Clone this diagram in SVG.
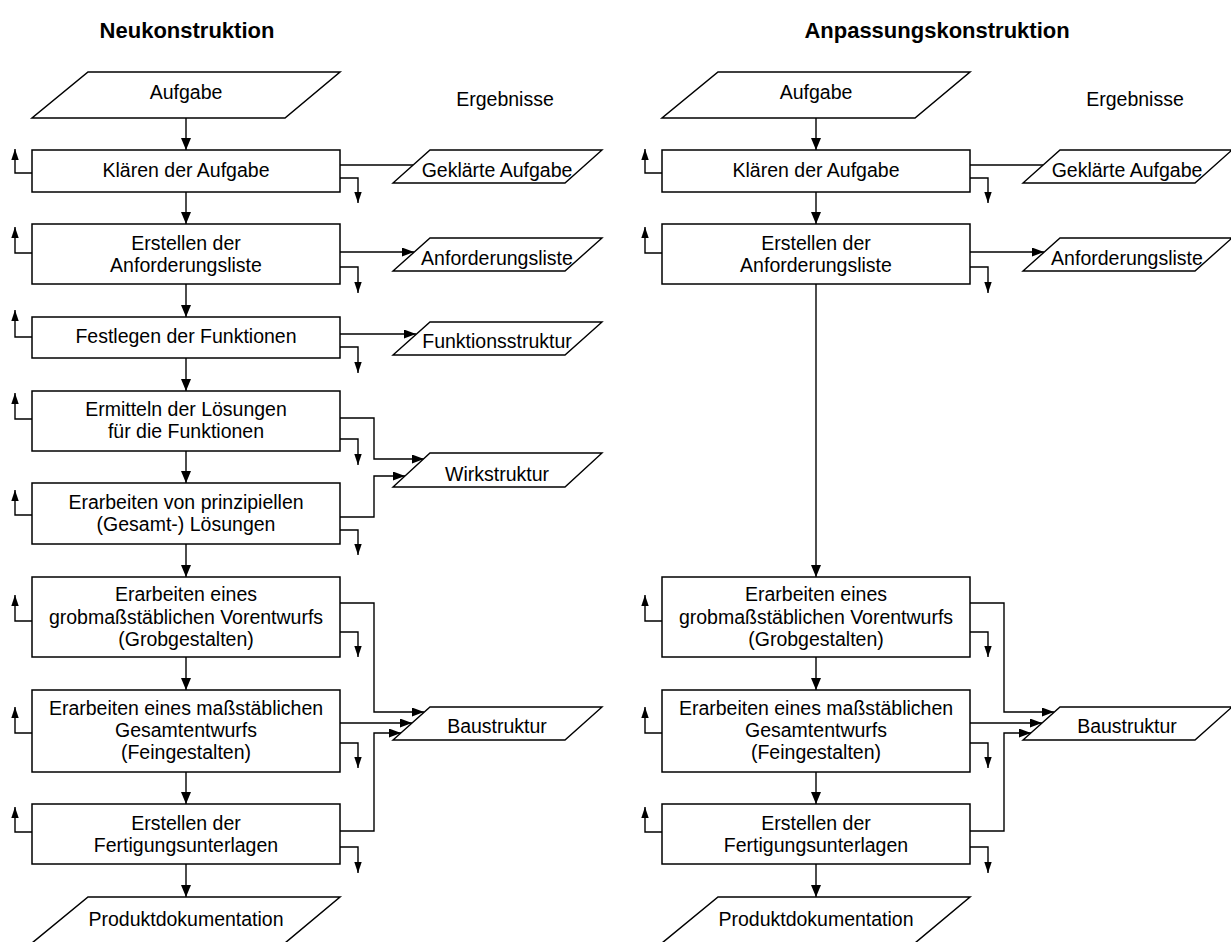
<svg xmlns="http://www.w3.org/2000/svg" width="1231" height="942" viewBox="0 0 1231 942">
  <style>
    .box { fill: #fff; stroke: #000; stroke-width: 1.5; }
    .res { fill: #fff; stroke: #000; stroke-width: 1.4; }
    .lbl { font-family: "Liberation Sans", Arial, sans-serif; font-size: 19.5px; fill: #000; text-anchor: middle; }
    .ttl { font-family: "Liberation Sans", Arial, sans-serif; font-size: 22px; font-weight: bold; fill: #000; text-anchor: middle; }
    .ln { fill: none; stroke: #000; stroke-width: 1.4; }
    .main { marker-end: url(#arrMain); }
    .small { marker-end: url(#arrSmall); }
    .out { marker-end: url(#arrOut); }
  </style>
  <defs>
    <marker id="arrMain" markerUnits="userSpaceOnUse" markerWidth="12" markerHeight="10" refX="12" refY="5" orient="auto">
      <path d="M0,0 L12,5 L0,10 Z" fill="#000"/>
    </marker>
    <marker id="arrSmall" markerUnits="userSpaceOnUse" markerWidth="11" markerHeight="8" refX="11" refY="4" orient="auto">
      <path d="M0,0.3 L11,4 L0,7.7 Z" fill="#000"/>
    </marker>
    <marker id="arrOut" markerUnits="userSpaceOnUse" markerWidth="12" markerHeight="9" refX="12" refY="4.5" orient="auto">
      <path d="M0,0 L12,4.5 L0,9 Z" fill="#000"/>
    </marker>
  </defs>
  <rect width="1231" height="942" fill="#fff"/>

  <!-- column headings -->
  <text class="ttl" x="187" y="38">Neukonstruktion</text>
  <text class="ttl" x="937" y="38">Anpassungskonstruktion</text>
  <text class="lbl" x="505" y="106">Ergebnisse</text>
  <text class="lbl" x="1135" y="106">Ergebnisse</text>

  <!-- ===== left column: Neukonstruktion ===== -->
  <g id="connectors-left">
    <!-- main flow -->
    <path class="ln main" d="M186,118 V150"/>
    <path class="ln main" d="M186,192 V224"/>
    <path class="ln main" d="M186,284 V317"/>
    <path class="ln main" d="M186,358 V391"/>
    <path class="ln main" d="M186,451 V483"/>
    <path class="ln main" d="M186,544 V577"/>
    <path class="ln main" d="M186,657 V690"/>
    <path class="ln main" d="M186,772 V804"/>
    <path class="ln main" d="M186,864 V897"/>
    <!-- return paths (left) -->
    <path class="ln small" d="M32,173 H15 V149"/>
    <path class="ln small" d="M32,253 H15 V227"/>
    <path class="ln small" d="M32,337 H15 V310"/>
    <path class="ln small" d="M32,419 H15 V393"/>
    <path class="ln small" d="M32,515 H15 V490"/>
    <path class="ln small" d="M32,621 H15 V595"/>
    <path class="ln small" d="M32,733 H15 V707"/>
    <path class="ln small" d="M32,832 H15 V807"/>
    <!-- forward paths (right) -->
    <path class="ln small" d="M340,178 H358 V203"/>
    <path class="ln small" d="M340,267 H358 V293"/>
    <path class="ln small" d="M340,347 H358 V373"/>
    <path class="ln small" d="M340,439 H358 V465"/>
    <path class="ln small" d="M340,530 H358 V555"/>
    <path class="ln small" d="M340,632 H358 V657"/>
    <path class="ln small" d="M340,743 H358 V768"/>
    <path class="ln small" d="M340,847 H358 V873"/>
    <!-- results -->
    <path class="ln" d="M340,165 H413"/>
    <path class="ln out" d="M340,252 H414"/>
    <path class="ln out" d="M340,334 H416"/>
    <path class="ln out" d="M340,418 H374 V459 H424"/>
    <path class="ln out" d="M340,517 H374 V476 H405"/>
    <path class="ln out" d="M340,603 H374 V712 H424"/>
    <path class="ln out" d="M340,723 H412"/>
    <path class="ln out" d="M340,831 H374 V733 H401"/>
  </g>

  <g id="n-aufgabe">
    <polygon class="box" points="88,72 340,72 285,118 32,118"/>
    <text class="lbl" x="186" y="99">Aufgabe</text>
  </g>
  <g id="n-klaeren">
    <rect class="box" x="32" y="150" width="308" height="42"/>
    <text class="lbl" x="186" y="177">Klären der Aufgabe</text>
  </g>
  <g id="n-anforderung">
    <rect class="box" x="32" y="224" width="308" height="60"/>
    <text class="lbl" x="186" y="250">Erstellen der</text>
    <text class="lbl" x="186" y="272">Anforderungsliste</text>
  </g>
  <g id="n-funktionen">
    <rect class="box" x="32" y="317" width="308" height="41"/>
    <text class="lbl" x="186" y="343">Festlegen der Funktionen</text>
  </g>
  <g id="n-loesungen">
    <rect class="box" x="32" y="391" width="308" height="60"/>
    <text class="lbl" x="186" y="416">Ermitteln der Lösungen</text>
    <text class="lbl" x="186" y="438">für die Funktionen</text>
  </g>
  <g id="n-prinzip">
    <rect class="box" x="32" y="483" width="308" height="61"/>
    <text class="lbl" x="186" y="509">Erarbeiten von prinzipiellen</text>
    <text class="lbl" x="186" y="531">(Gesamt-) Lösungen</text>
  </g>
  <g id="n-grob">
    <rect class="box" x="32" y="577" width="308" height="80"/>
    <text class="lbl" x="186" y="601">Erarbeiten eines</text>
    <text class="lbl" x="186" y="623.5">grobmaßstäblichen Vorentwurfs</text>
    <text class="lbl" x="186" y="646">(Grobgestalten)</text>
  </g>
  <g id="n-fein">
    <rect class="box" x="32" y="690" width="308" height="82"/>
    <text class="lbl" x="186" y="715">Erarbeiten eines maßstäblichen</text>
    <text class="lbl" x="186" y="737">Gesamtentwurfs</text>
    <text class="lbl" x="186" y="759">(Feingestalten)</text>
  </g>
  <g id="n-fertigung">
    <rect class="box" x="32" y="804" width="308" height="60"/>
    <text class="lbl" x="186" y="830">Erstellen der</text>
    <text class="lbl" x="186" y="852">Fertigungsunterlagen</text>
  </g>
  <g id="n-doku">
    <polygon class="box" points="88,897 340,897 285,943 32,943"/>
    <text class="lbl" x="186" y="926">Produktdokumentation</text>
  </g>

  <g id="r-geklaert">
    <polygon class="res" points="430,150 602,150 565,183 393,183"/>
    <text class="lbl" x="497" y="177">Geklärte Aufgabe</text>
  </g>
  <g id="r-anforderung">
    <polygon class="res" points="430,238 602,238 565,271 393,271"/>
    <text class="lbl" x="497" y="265">Anforderungsliste</text>
  </g>
  <g id="r-funktion">
    <polygon class="res" points="430,322 602,322 565,355 393,355"/>
    <text class="lbl" x="497" y="348">Funktionsstruktur</text>
  </g>
  <g id="r-wirk">
    <polygon class="res" points="430,453 602,453 565,487 393,487"/>
    <text class="lbl" x="497" y="481">Wirkstruktur</text>
  </g>
  <g id="r-bau">
    <polygon class="res" points="430,707 602,707 565,740 393,740"/>
    <text class="lbl" x="497" y="733">Baustruktur</text>
  </g>

  <!-- ===== right column: Anpassungskonstruktion ===== -->
  <g id="connectors-right" transform="translate(630,0)">
    <path class="ln main" d="M186,118 V150"/>
    <path class="ln main" d="M186,192 V224"/>
    <path class="ln main" d="M186,284 V577"/>
    <path class="ln main" d="M186,657 V690"/>
    <path class="ln main" d="M186,772 V804"/>
    <path class="ln main" d="M186,864 V897"/>
    <path class="ln small" d="M32,173 H15 V149"/>
    <path class="ln small" d="M32,253 H15 V227"/>
    <path class="ln small" d="M32,621 H15 V595"/>
    <path class="ln small" d="M32,733 H15 V707"/>
    <path class="ln small" d="M32,832 H15 V807"/>
    <path class="ln small" d="M340,178 H358 V203"/>
    <path class="ln small" d="M340,267 H358 V293"/>
    <path class="ln small" d="M340,632 H358 V657"/>
    <path class="ln small" d="M340,743 H358 V768"/>
    <path class="ln small" d="M340,847 H358 V873"/>
    <path class="ln" d="M340,165 H413"/>
    <path class="ln out" d="M340,252 H414"/>
    <path class="ln out" d="M340,603 H374 V712 H424"/>
    <path class="ln out" d="M340,723 H412"/>
    <path class="ln out" d="M340,831 H374 V733 H401"/>
  </g>

  <g id="a-aufgabe" transform="translate(630,0)">
    <polygon class="box" points="88,72 340,72 285,118 32,118"/>
    <text class="lbl" x="186" y="99">Aufgabe</text>
  </g>
  <g id="a-klaeren" transform="translate(630,0)">
    <rect class="box" x="32" y="150" width="308" height="42"/>
    <text class="lbl" x="186" y="177">Klären der Aufgabe</text>
  </g>
  <g id="a-anforderung" transform="translate(630,0)">
    <rect class="box" x="32" y="224" width="308" height="60"/>
    <text class="lbl" x="186" y="250">Erstellen der</text>
    <text class="lbl" x="186" y="272">Anforderungsliste</text>
  </g>
  <g id="a-grob" transform="translate(630,0)">
    <rect class="box" x="32" y="577" width="308" height="80"/>
    <text class="lbl" x="186" y="601">Erarbeiten eines</text>
    <text class="lbl" x="186" y="623.5">grobmaßstäblichen Vorentwurfs</text>
    <text class="lbl" x="186" y="646">(Grobgestalten)</text>
  </g>
  <g id="a-fein" transform="translate(630,0)">
    <rect class="box" x="32" y="690" width="308" height="82"/>
    <text class="lbl" x="186" y="715">Erarbeiten eines maßstäblichen</text>
    <text class="lbl" x="186" y="737">Gesamtentwurfs</text>
    <text class="lbl" x="186" y="759">(Feingestalten)</text>
  </g>
  <g id="a-fertigung" transform="translate(630,0)">
    <rect class="box" x="32" y="804" width="308" height="60"/>
    <text class="lbl" x="186" y="830">Erstellen der</text>
    <text class="lbl" x="186" y="852">Fertigungsunterlagen</text>
  </g>
  <g id="a-doku" transform="translate(630,0)">
    <polygon class="box" points="88,897 340,897 285,943 32,943"/>
    <text class="lbl" x="186" y="926">Produktdokumentation</text>
  </g>

  <g id="ar-geklaert" transform="translate(630,0)">
    <polygon class="res" points="430,150 602,150 565,183 393,183"/>
    <text class="lbl" x="497" y="177">Geklärte Aufgabe</text>
  </g>
  <g id="ar-anforderung" transform="translate(630,0)">
    <polygon class="res" points="430,238 602,238 565,271 393,271"/>
    <text class="lbl" x="497" y="265">Anforderungsliste</text>
  </g>
  <g id="ar-bau" transform="translate(630,0)">
    <polygon class="res" points="430,707 602,707 565,740 393,740"/>
    <text class="lbl" x="497" y="733">Baustruktur</text>
  </g>
</svg>
